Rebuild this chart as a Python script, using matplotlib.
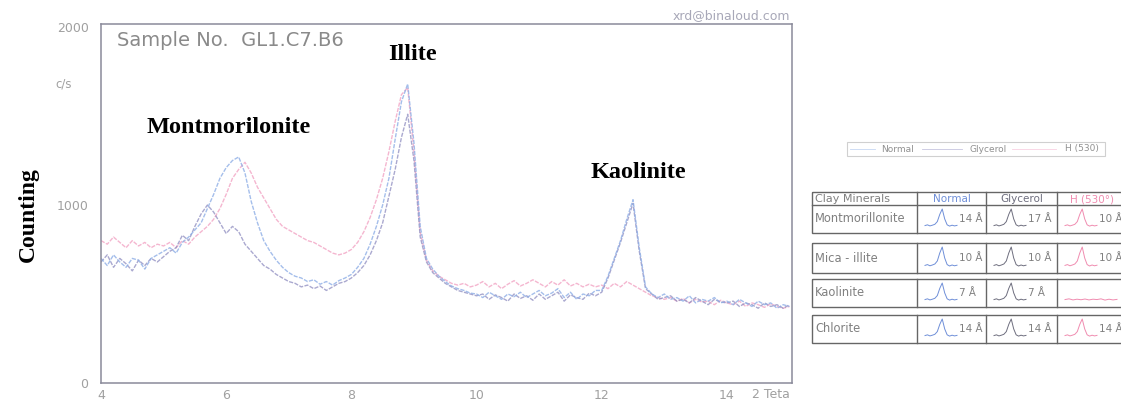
import matplotlib.pyplot as plt
import numpy as np

# XRD scan, 2-theta grid 4.0 .. 15.0 step 0.1
two_theta = np.round(np.arange(4.0, 15.01, 0.1), 1)

normal = [700, 660, 720, 680, 650, 700, 690, 640, 700, 720,
          740, 760, 730, 790, 820, 860, 900, 980, 1060, 1150,
          1210, 1250, 1270, 1180, 1020, 900, 800, 740, 690, 650,
          620, 600, 590, 570, 580, 555, 570, 550, 575, 590,
          610, 650, 700, 780, 880, 1000, 1150, 1370, 1580, 1680,
          1350, 880, 700, 640, 600, 570, 545, 530, 520, 505,
          500, 480, 510, 490, 470, 500, 485, 510, 480, 500,
          520, 490, 505, 530, 480, 510, 470, 500, 490, 520,
          520, 600, 700, 800, 920, 1030, 760, 540, 500, 480,
          500, 470, 480, 460, 490, 450, 470, 460, 480, 450,
          460, 440, 470, 450, 430, 460, 440, 450, 420, 440,
          430]

glycerol = [680, 720, 650, 700, 670, 630, 690, 660, 700, 680,
            710, 740, 760, 830, 800, 880, 950, 1000, 960, 900,
            840, 880, 850, 780, 740, 700, 660, 640, 610, 590,
            570, 560, 540, 550, 530, 545, 520, 540, 560, 570,
            590, 620, 660, 720, 800, 900, 1050, 1200, 1380, 1510,
            1250, 820, 680, 620, 590, 560, 540, 520, 510, 500,
            490, 500, 470, 495, 480, 460, 500, 475, 490, 465,
            500, 470, 490, 510, 460, 495, 480, 470, 505, 490,
            510, 590, 690, 790, 900, 1010, 740, 530, 500, 470,
            480, 490, 460, 470, 450, 480, 460, 440, 470, 455,
            450, 460, 430, 450, 440, 420, 450, 430, 440, 420,
            440]

heated = [800, 780, 820, 790, 760, 800, 770, 790, 760, 780,
          770, 790, 760, 800, 780, 820, 850, 880, 920, 980,
          1060, 1150, 1200, 1240, 1180, 1100, 1040, 980, 920, 880,
          860, 840, 820, 800, 790, 770, 750, 730, 720, 730,
          750, 790, 850, 930, 1030, 1150, 1300, 1470, 1620, 1660,
          1300, 850, 690, 630, 600, 580, 560, 550, 560, 540,
          550, 570, 540, 560, 530, 555, 575, 545, 560, 580,
          560, 540, 570, 550, 580, 545, 560, 540, 555, 540,
          550, 530, 560, 540, 570, 550, 530, 510, 490, 480,
          470, 480, 460, 475, 450, 470, 455, 460, 440, 465,
          450, 440, 460, 430, 450, 440, 425, 445, 430, 420,
          430]

x_ticks = [4, 6, 8, 10, 12, 14]
y_ticks = [0, 1000, 2000]

peak_names = ["Montmorilonite", "Illite", "Kaolinite"]
peak_x = [6.04, 8.98, 12.58]
peak_y = [1433, 1843, 1185]

minerals = ["Montmorillonite", "Mica - illite", "Kaolinite", "Chlorite"]
treatments = ["Normal", "Glycerol", "H (530°)"]
spacings = [[14, 17, 10], [10, 10, 10], [7, 7, None], [14, 14, 14]]
# small peak icon used inside the table cells
glyph = [0.08, 0.12, 0.06, 0.1, 0.15, 0.3, 0.7, 1.0, 0.45, 0.12, 0.05, 0.1, 0.06, 0.09]
flat_glyph = [0.08, 0.12, 0.06, 0.1, 0.07, 0.11, 0.06, 0.1, 0.08, 0.12, 0.05, 0.1, 0.06, 0.09]

c_norm = "#8eaee6"
c_gly = "#8e8cc0"
c_heat = "#f2a4c4"
cell_cols = ["#6f8fd8", "#6e6e7e", "#f08cb0"]
gray = "#a0a0a0"
sans = "DejaVu Sans"
serif = "Liberation Serif"

fig = plt.figure(figsize=(11.21, 4.0), dpi=100)
ax = fig.add_axes([101 / 1121, 1 - 383 / 400, 691 / 1121, 359 / 400])
ax.set_facecolor("none")

ax.plot(two_theta, heated, color=c_heat, lw=1.0, ls=(0, (3, 1)), alpha=0.8)
ax.plot(two_theta, glycerol, color=c_gly, lw=1.0, ls=(0, (3, 1)), alpha=0.75)
ax.plot(two_theta, normal, color=c_norm, lw=1.0, ls=(0, (3, 1)), alpha=0.8)

ax.set_xlim(4, 15.04)
ax.set_ylim(0, 2017)
ax.set_xticks(x_ticks)
ax.set_xticklabels([str(t) for t in x_ticks], fontsize=9, color=gray, family=sans)
ax.set_yticks(y_ticks)
ax.set_yticklabels([str(t) for t in y_ticks], fontsize=9, color=gray, family=sans)
ax.tick_params(length=0, pad=9, axis="y")
ax.tick_params(length=0, pad=4, axis="x")
for s in ax.spines.values():
    s.set_color("#8a8a9a")
    s.set_linewidth(1.1)

for name, px, py in zip(peak_names, peak_x, peak_y):
    ax.text(px, py, name, ha="center", va="center", fontsize=17.5,
            fontweight="bold", family=serif)

# overlay in pixel coordinates for the annotations and the table
ov = fig.add_axes([0, 0, 1, 1], zorder=-1)
ov.set_xlim(0, 1121)
ov.set_ylim(400, 0)
ov.axis("off")

ov.text(117, 40, "Sample No.  GL1.C7.B6", fontsize=14, color="#8a8a8a",
        family=sans, va="center")
ov.text(790, 16, "xrd@binaloud.com", fontsize=9, color="#a8a8b8",
        family=sans, va="center", ha="right")
ov.text(55, 84, "c/s", fontsize=8.5, color=gray, family=sans, va="center")
ov.text(752, 395, "2 Teta", fontsize=9, color=gray, family=sans, va="center")
fig.text(28 / 1121, 1 - 215 / 400, "Counting", rotation=90, ha="center",
         va="center", fontsize=17, fontweight="bold", family=serif)

# legend box
ov.add_patch(plt.Rectangle((847, 142), 258, 14, fill=False, ec="#d0d0d0", lw=0.8))
for lx0, lx1, tx, lab, col in [(850, 875, 897, "Normal", c_norm),
                               (922, 962, 988, "Glycerol", c_gly),
                               (1012, 1056, 1082, "H (530)", c_heat)]:
    ov.plot([lx0, lx1], [149, 149], color=col, lw=0.6, alpha=0.5)
    ov.text(tx, 149, lab, fontsize=6.5, color="#909090", family=sans,
            ha="center", va="center")

# table
col_edges = [812, 917, 986, 1057, 1126]
boxes = [(192, 233), (243, 273), (279, 307), (315, 343)]
header_line = 205
lc = "#666666"
for bi, (top, bot) in enumerate(boxes):
    ov.add_patch(plt.Rectangle((col_edges[0], top), col_edges[-1] - col_edges[0],
                               bot - top, fill=False, ec=lc, lw=1.0))
    for ce in col_edges[1:-1]:
        ov.plot([ce, ce], [top, bot], color=lc, lw=1.0)
    row_top = header_line if bi == 0 else top
    mid = (row_top + bot) / 2
    ov.text(815, mid, minerals[bi], fontsize=8.3, color="#808080", family=sans, va="center")
    for ci in range(3):
        left = col_edges[ci + 1]
        d = spacings[bi][ci]
        shape = glyph if d is not None else flat_glyph
        gx = np.linspace(left + 8, left + 40 if d is not None else left + 60, len(shape))
        base = bot - 6
        height = (bot - row_top) - 10
        ov.plot(gx, base - np.array(shape) * height, color=cell_cols[ci], lw=0.7)
        if d is not None:
            ov.text(left + 42, mid, f"{d} Å", fontsize=7.5, color="#808080",
                    family=sans, va="center")
ov.plot([col_edges[0], col_edges[-1]], [header_line, header_line], color=lc, lw=1.0)
ov.text(815, 199, "Clay Minerals", fontsize=8, color="#808080", family=sans, va="center")
for ci, t in enumerate(treatments):
    cx = (col_edges[ci + 1] + col_edges[ci + 2]) / 2
    ov.text(cx, 199, t, fontsize=7.5, color=cell_cols[ci], family=sans,
            va="center", ha="center")

fig.savefig("out.png", dpi=100)
